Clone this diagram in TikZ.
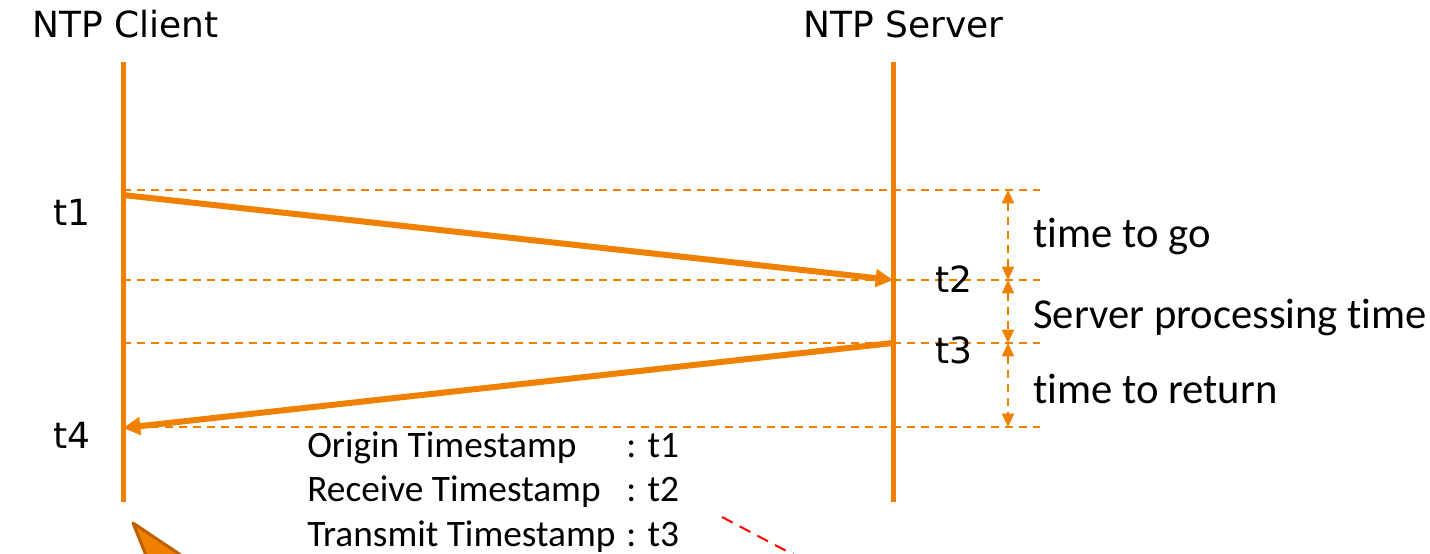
\documentclass[tikz,border=0pt]{standalone}
\usepackage{fontspec}
\setmainfont{Carlito}[Ligatures=NoCommon]
\newfontfamily\labelfont{DejaVu Sans}
\usetikzlibrary{arrows.meta, positioning, calc}
\definecolor{ntporange}{RGB}{240,128,0}
\definecolor{ntpdark}{RGB}{190,95,0}
\definecolor{hintred}{RGB}{255,0,0}

\begin{document}
\begin{tikzpicture}[x=0.75pt, y=-0.75pt,
  lifeline/.style={draw=ntporange, line width=3.75pt},
  msg/.style={draw=ntporange, line width=4.5pt, -{Triangle[length=13pt, width=13pt]}},
  tick/.style={draw=ntporange, line width=1.5pt, dash pattern=on 6pt off 4.5pt},
  span/.style={tick, {Triangle[length=10pt, width=9pt]}-{Triangle[length=10pt, width=9pt]}},
  host/.style={font=\labelfont\fontsize{27}{32}\selectfont, inner sep=0pt, anchor=base west},
  note/.style={font=\fontsize{32}{38}\selectfont, inner sep=0pt, anchor=base west},
  field/.style={font=\fontsize{28}{33}\selectfont, inner sep=0pt, anchor=base west}
]
  \useasboundingbox (0,0) rectangle (1430,553);

  % event levels
  \foreach \n/\y in {1/190, 2/280, 3/343, 4/427}{
    \coordinate (l\n) at (123,\y);
    \coordinate (r\n) at (1040,\y);
    \coordinate (d\n) at (1008,\y);
    \draw[tick] (l\n) -- (r\n);
  }

  % lifelines
  \coordinate (ctop) at (123,62);
  \coordinate (cbot) at (123,502);
  \coordinate (stop) at (893,62);
  \coordinate (sbot) at (893,502);
  \draw[lifeline] (ctop) -- (cbot);
  \draw[lifeline] (stop) -- (sbot);
  \node[host] (client) at (32,37) {NTP Client};
  \node[host] (server) at (803,37) {NTP Server};

  % request and reply
  \coordinate (send) at (123,195);
  \coordinate (recv) at (893,280);
  \coordinate (xmit) at (893,343);
  \coordinate (back) at (123,428);
  \draw[msg] (send) -- (recv);
  \draw[msg] (xmit) -- (back);

  \node[host] (t1) at (53,225) {t1};
  \node[host] (t2) at (935,292) {t2};
  \node[host] (t3) at (935,363) {t3};
  \node[host] (t4) at (53,448) {t4};

  % intervals
  \draw[span] (d1) -- (d2);
  \draw[span] (d2) -- (d3);
  \draw[span] (d3) -- (d4);
  \node[note] (go) at (1033,247) {time to go};
  \node[note] (proc) at (1033,328) {Server processing time};
  \node[note] (ret) at (1033,403) {time to return};

  % packet fields
  \foreach \i/\name/\t in {0/Origin/t1, 1/Receive/t2, 2/Transmit/t3}{
    \node[field] (f\i) at (307,457+44.5*\i) {\name\ Timestamp};
    \node[field] (v\i) at (626,457+44.5*\i) {: \t};
  }

  % pointer and guide running off the bottom
  \begin{scope}
    \clip (0,0) rectangle (1430,553);
    \draw[draw=ntpdark, fill=ntporange, line width=2.25pt, line join=round]
      (133,523) -- (164,600) -- (248,600) -- cycle;
    \draw[hintred, line width=1.5pt, dash pattern=on 9pt off 6pt]
      (722,517) -- (830,574);
  \end{scope}
\end{tikzpicture}
\end{document}
